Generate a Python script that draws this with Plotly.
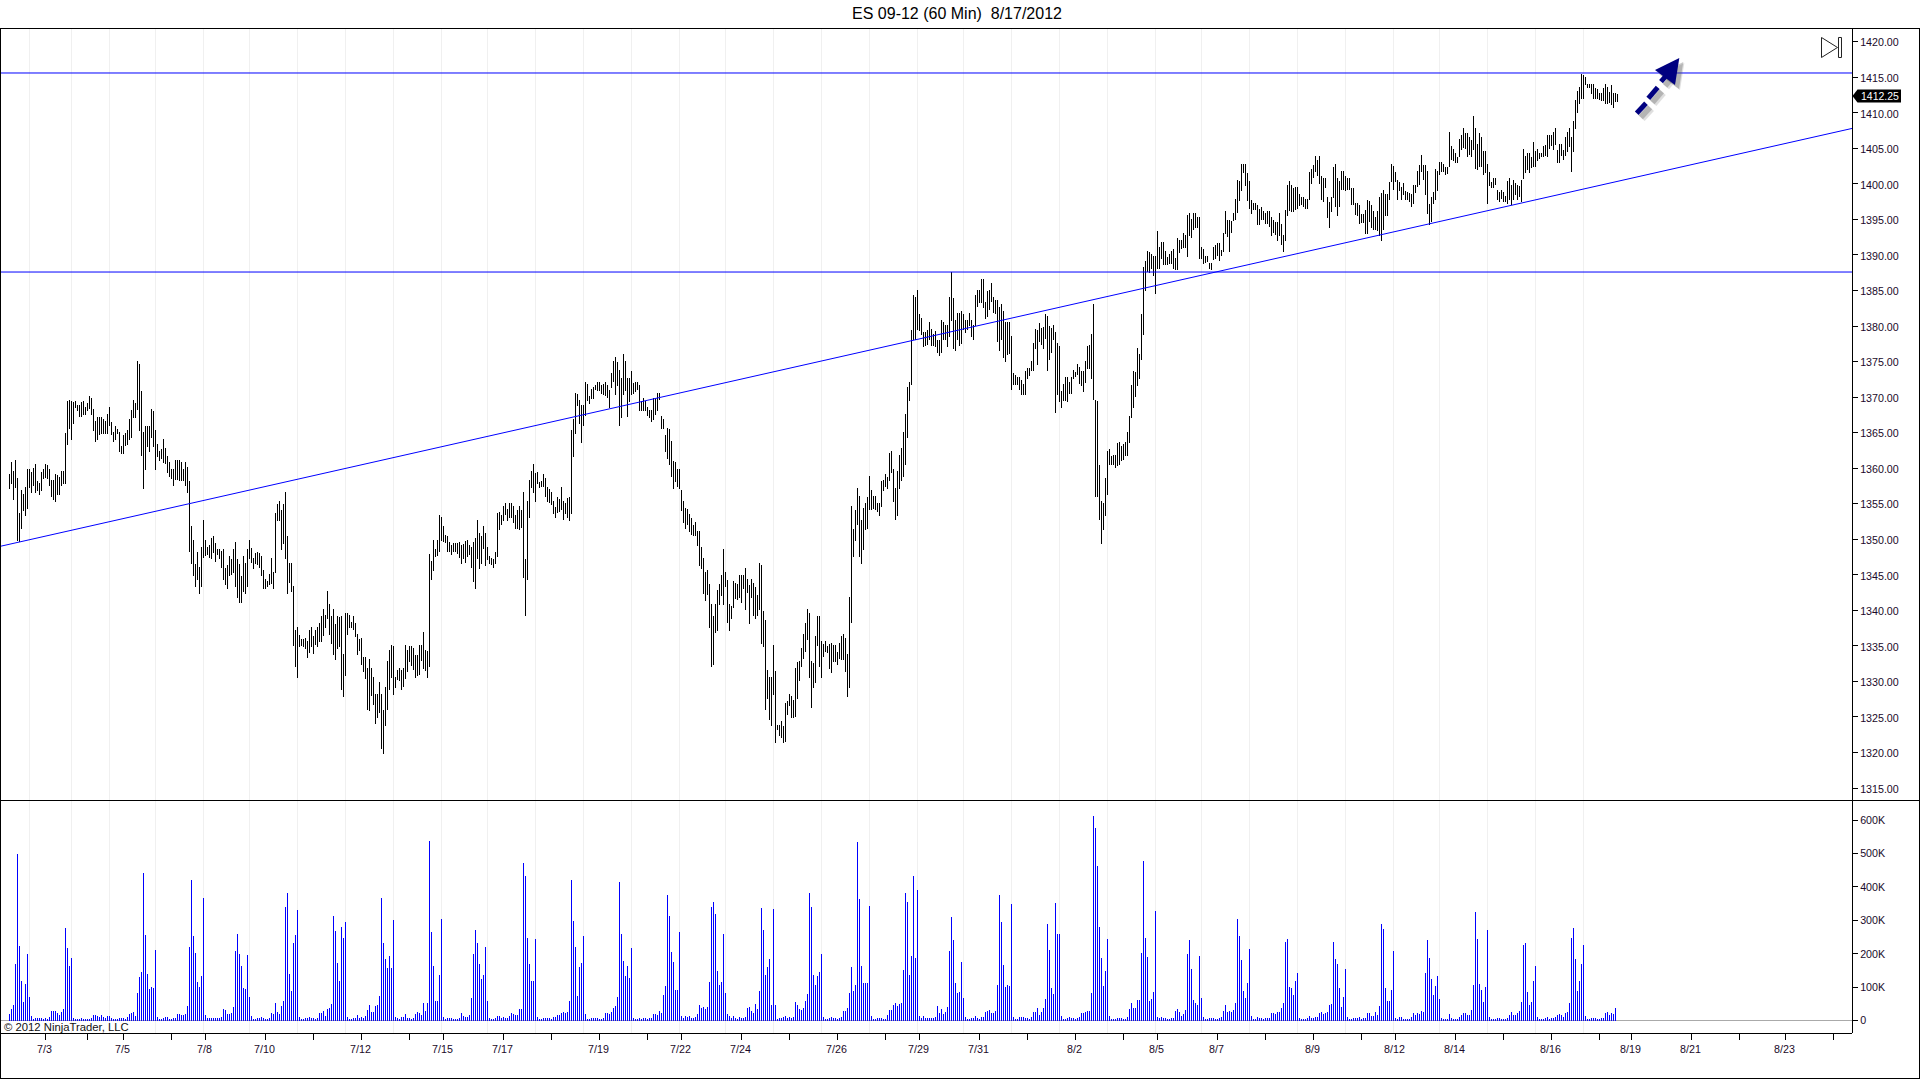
import plotly.graph_objects as go

W, H = 1920, 1079
title_text = "ES 09-12 (60 Min)  8/17/2012"
last_price = "1412.25"
copyright_text = "\u00a9 2012 NinjaTrader, LLC"

high_a = [
1359.2,1360.9,1359.6,1361.2,1358.6,1353.7,1356.9,1356.4,1357.3,1359.9,1359.9,1359.5,1360.0,1360.6,1358.2,1357.9,1359.5,1359.9,1360.6,1360.4,
1359.9,1358.3,1358.3,1359.2,1359.0,1358.8,1359.6,1359.6,1364.9,1369.4,1369.6,1369.4,1369.3,1369.4,1368.9,1368.9,1369.3,1369.4,1368.6,1369.2,
1370.2,1369.9,1368.3,1366.6,1367.2,1367.2,1367.2,1366.9,1366.6,1367.6,1368.6,1366.5,1365.1,1365.9,1365.5,1365.1,1363.1,1364.7,1364.9,1365.4,
1366.9,1368.2,1369.6,1369.2,1375.1,1374.7,1370.9,1365.1,1365.9,1365.9,1365.9,1368.3,1368.0,1365.4,1363.4,1362.4,1362.7,1364.1,1362.8,1361.7,
1360.9,1359.9,1359.9,1361.2,1361.2,1361.2,1360.9,1359.9,1360.9,1360.2,
1358.2,1351.9,1349.9,1346.5,1348.2,1346.1,1348.9,1352.7,1349.9,1348.9,1349.2,1350.2,1350.4,1349.5,1348.6,1348.6,1348.3,1348.6,1345.9,1346.4,
1347.6,1347.2,1348.6,1349.6,1347.2,1346.5,1344.9,1347.6,1346.6,1348.6,1349.9,1348.8,1347.4,1348.0,1348.2,1348.0,1347.6,1345.7,1344.4,1344.1,
1345.1,1347.4,1345.4,1353.7,1354.9,1355.4,1354.1,1354.9,1356.6,1350.4,1346.6,1346.6,1343.4,1337.2,1337.6,1336.6,1336.0,1336.0,1336.1,1335.7,
1337.2,1337.6,1336.4,1337.2,1337.6,1338.2,1339.2,1340.2,1339.3,1342.7,1340.9,1339.2,1340.2,1338.1,1339.2,1339.0,1339.2,1333.9,1339.6,1339.6,
1339.3,1338.3,1339.2,1338.2,1336.7,1336.0,1336.1,1333.4,1333.4,1331.9,1333.1,1331.9,1330.6,1328.2,1328.2,1329.9,1328.2,1326.0,1329.2,1332.9,
1334.4,1335.1,1335.0,1330.6,1331.6,1331.9,1331.6,1331.9,1335.1,1334.4,1335.0,1335.0,1334.7,1333.7,1333.7,1335.1,1335.1,1336.9,1334.4,1334.3,
1347.9,1346.9,1349.9,1348.6,1349.9,1353.4,1353.1,1351.9,1350.6,1350.4,1349.6,1349.2,1349.5,1349.5,1349.5,1349.6,1349.2,1349.3,1349.8,1349.9,
1349.2,1348.9,1349.6,1350.2,1352.7,1350.9]
low_a = [
1357.1,1357.8,1355.5,1357.2,1349.7,1349.6,1351.4,1354.0,1353.3,1354.2,1357.2,1356.5,1357.5,1356.5,1356.8,1356.2,1356.8,1358.5,1358.6,1358.5,
1357.5,1355.9,1355.5,1355.2,1356.2,1356.2,1357.5,1357.8,1357.8,1363.3,1365.5,1364.0,1366.2,1368.5,1368.0,1367.2,1367.2,1367.5,1367.5,1368.0,
1368.3,1367.5,1365.3,1363.7,1364.0,1364.7,1364.8,1364.8,1364.8,1364.8,1365.9,1364.7,1363.7,1364.0,1364.8,1362.3,1362.0,1362.0,1363.1,1363.3,
1364.0,1364.2,1367.1,1367.1,1368.2,1365.2,1361.7,1357.1,1359.7,1363.0,1362.3,1364.2,1363.0,1359.7,1361.6,1361.0,1361.3,1360.7,1360.6,1359.3,
1358.8,1358.5,1357.5,1358.3,1358.3,1358.2,1358.2,1358.2,1357.5,1356.5,
1348.2,1346.5,1344.8,1343.3,1344.3,1342.3,1343.3,1347.4,1347.6,1347.8,1347.4,1347.2,1348.1,1346.8,1347.8,1347.2,1345.9,1344.3,1343.6,1343.0,
1344.8,1345.0,1345.2,1343.3,1341.7,1341.0,1341.0,1342.6,1342.3,1343.3,1347.2,1346.6,1345.8,1346.5,1346.4,1345.9,1344.8,1343.0,1343.0,1343.3,
1343.6,1343.7,1343.0,1345.2,1352.6,1352.6,1348.5,1349.3,1347.2,1342.3,1343.8,1342.6,1335.0,1332.0,1330.5,1334.8,1335.0,1334.8,1334.5,1333.3,
1334.0,1334.8,1333.9,1335.1,1334.8,1335.5,1335.5,1336.4,1337.5,1338.8,1336.5,1335.3,1333.7,1333.0,1334.5,1334.8,1328.8,1327.8,1330.8,1336.5,
1337.5,1337.5,1337.2,1336.2,1333.7,1334.3,1332.3,1331.3,1330.3,1326.0,1325.8,1327.9,1326.7,1324.0,1324.8,1325.5,1320.5,1319.8,1323.7,1326.0,
1328.8,1330.5,1328.1,1329.1,1330.2,1330.0,1328.8,1329.2,1330.3,1331.3,1332.7,1332.2,1331.6,1330.5,1330.8,1330.9,1332.9,1331.7,1331.5,1330.5,
1332.0,1344.3,1345.5,1347.5,1347.6,1348.2,1349.7,1349.6,1349.5,1348.2,1348.2,1347.8,1348.2,1348.2,1347.9,1347.4,1346.5,1347.2,1346.6,1347.5,
1347.8,1345.9,1344.0,1343.0,1347.2,1345.8]

high_b = [
1350.5,1351.9,1350.9,1348.9,1347.6,1347.4,1347.2,1348.2,1353.7,1353.8,1353.4,1354.7,1355.1,1354.2,1355.1,1355.1,1354.7,1353.4,1354.1,1354.7,
1354.1,1356.6,1347.2,1355.4,1358.3,1359.6,1360.6,1359.3,1359.5,1358.1,1358.2,1359.2,1358.6,1357.3,1357.1,1356.6,1355.4,1354.5,1355.9,1355.7,
1357.3,1355.4,1355.1,1355.8,1355.9,1365.4,1366.9,1370.6,1370.4,1369.6,1368.9,1368.9,1372.1,1371.8,1370.2,1371.1,1371.4,1371.7,1372.1,1372.1,
1371.7,1371.8,1372.1,1371.7,1371.0,1373.4,1375.1,1375.6,1374.9,1373.8,1372.7,1376.1,1375.1,1372.7,1372.7,1373.7,1372.0,1372.1,1372.1,1371.7,
1369.4,1369.9,1369.4,1368.6,1368.2,1368.2,1369.9,1369.9,1370.6,1370.6,1367.3,1366.9,1364.7,1365.6,1365.5,1363.8,1361.0,1360.9,1359.9,1359.9,
1356.9,1355.4,1354.4,1354.2,1353.5,1353.0,1352.0,1352.4,1351.2,1351.2,1348.9,1347.4,1345.4,1345.7,1343.7,1340.9,1339.2,1340.9,1342.9,1343.7,
1345.0,1348.6,1345.4,1344.3,1340.9,1340.6,1344.1,1343.8,1343.7,1345.0,1345.0,1345.0,1346.0,1344.4,1343.6,1344.4,1343.8,1343.3,1342.1,1346.6,
1346.4,1339.9,1338.6,1331.6,1330.6,1330.6,1335.1,1331.5,1323.9,1323.9,1324.4,1323.7,1326.9,1327.2,1328.2,1327.9,1327.4,1331.9,1332.7,1332.9,
1334.7,1336.7,1338.2,1340.2,1339.6,1332.9,1332.6,1336.4,1339.2,1339.2,1335.7,1335.3,1335.7,1335.0,1335.3,1335.4,1335.1,1335.1,1334.1,1335.4,
1336.4,1336.7,1336.1,1333.8,1341.9,1354.7,1351.4,1354.1,1357.2,1356.1,1352.7,1354.4,1355.1,1355.9,1358.9,1356.9,1356.1,1356.1,1355.1,1355.1,
1358.2,1358.3,1359.2,1358.8,1362.1,1362.4,1359.9,1357.2,1359.6,1361.9,1362.8,1365.1,1367.6,1371.4,1372.1,1379.4]
low_b = [
1346.5,1348.7,1346.2,1347.1,1346.5,1346.4,1345.9,1346.5,1347.5,1351.3,1352.0,1352.6,1353.4,1352.6,1353.0,1353.0,1352.3,1351.4,1351.4,1351.3,
1351.6,1344.5,1339.2,1344.3,1353.0,1357.2,1356.5,1355.2,1357.8,1357.2,1357.3,1357.3,1355.9,1355.2,1355.1,1354.8,1353.5,1353.0,1353.7,1353.8,
1354.1,1352.7,1353.5,1353.0,1352.6,1353.5,1361.6,1364.8,1368.7,1366.2,1363.5,1365.9,1367.3,1369.4,1369.0,1369.7,1369.7,1371.0,1370.9,1370.9,
1370.4,1370.3,1370.2,1369.9,1368.5,1371.3,1372.1,1370.3,1371.6,1365.9,1367.1,1370.3,1370.9,1367.2,1369.3,1370.3,1370.4,1370.7,1371.0,1368.0,
1368.0,1368.0,1368.0,1367.3,1367.1,1366.5,1366.8,1367.5,1368.0,1369.6,1365.5,1365.5,1362.3,1361.3,1360.4,1358.8,1357.1,1358.1,1357.3,1357.1,
1354.0,1352.3,1351.4,1352.0,1351.0,1350.6,1350.4,1350.4,1349.0,1346.2,1345.8,1342.3,1341.3,1342.1,1337.5,1332.0,1332.3,1336.8,1337.1,1340.7,
1342.0,1340.7,1343.3,1338.2,1337.1,1338.8,1340.3,1341.6,1341.4,1341.7,1341.0,1343.0,1340.0,1342.4,1338.1,1341.7,1339.2,1338.8,1339.2,1340.0,
1335.3,1334.8,1326.0,1327.5,1324.6,1323.7,1328.1,1321.3,1323.2,1322.3,1322.0,1321.3,1321.5,1325.3,1326.5,1324.8,1324.8,1325.0,1327.5,1330.1,
1332.0,1333.1,1334.1,1335.8,1330.5,1326.2,1329.1,1329.8,1335.0,1332.0,1330.5,1333.4,1334.1,1334.0,1331.7,1331.2,1332.7,1332.7,1332.3,1333.1,
1333.0,1333.0,1331.3,1327.8,1329.1,1338.2,1347.5,1349.7,1352.0,1347.5,1346.5,1348.5,1351.3,1351.4,1354.1,1354.1,1354.2,1354.1,1353.8,1353.3,
1354.5,1356.8,1357.3,1357.1,1358.2,1359.3,1355.2,1352.7,1353.3,1357.1,1358.2,1358.8,1360.4,1364.2,1369.4,1371.7]

high_c = [1384.4,1384.1,1385.1,1381.7,1381.1,1379.2,1379.2,1379.4,1380.6,1379.6,1378.9,1379.3,1378.0,1378.0]
low_c = [1378.0,1378.0,1379.4,1379.3,1378.7,1377.0,1377.2,1377.3,1378.0,1377.2,1377.2,1377.0,1376.2,1375.8]

high_d = [
1380.8,1380.6,1380.1,1380.1,1384.1,1387.6,1383.9,1380.8,1381.8,1381.8,1382.1,1381.7,1380.8,1380.8,1381.8,1380.8,1380.1,1384.4,1385.1,1385.1,
1386.6,1386.6,1383.4,1384.9,1385.1,1386.0,1384.1,1383.7,1383.7,1382.7,1383.1,1382.1,1380.6,1380.6,1380.6,1378.6,1373.4,1373.1,1372.8,1372.8,
1372.4,1371.8,1373.7,1374.1,1374.1,1375.1,1377.6,1379.6,1379.4,1380.4,1379.7,1379.9,1381.7,1381.4,1380.0,1379.7,1380.1,1379.2,1377.6,1377.2,
1370.9,1371.8,1372.8,1372.8,1372.1,1372.8,1373.8,1373.5,1374.7,1374.2,1373.7,1373.7,1375.1,1377.2,1377.3,1378.9,1383.1,1369.6,1369.4,1360.4,
1355.4,1355.1,1358.6,1362.4,1362.7,1361.7,1361.8,1361.8,1363.5,1363.7,1363.1,1363.4,1363.7,1365.1,1367.3,1371.7,1373.7,1373.5,1376.9,1376.1,
1381.7,1388.3,1389.1,1390.6,1390.4,1390.1,1389.8,1389.8]
low_d = [
1376.2,1378.0,1378.0,1377.0,1378.5,1380.7,1376.8,1376.5,1378.0,1377.2,1377.5,1379.4,1379.0,1379.4,1380.0,1378.5,1378.0,1380.0,1382.7,1383.2,
1383.2,1382.5,1381.0,1381.3,1382.3,1383.4,1381.8,1381.7,1377.8,1376.5,1378.0,1375.5,1374.9,1375.9,1376.1,1371.0,1371.7,1371.7,1371.7,1371.0,
1370.3,1370.3,1370.3,1372.5,1373.0,1373.7,1373.7,1376.8,1374.5,1377.8,1377.3,1376.8,1378.2,1373.7,1375.2,1376.2,1378.0,1367.8,1370.3,1369.3,
1368.5,1369.4,1369.4,1369.3,1370.4,1370.4,1372.5,1372.8,1373.1,1371.8,1371.6,1370.7,1372.0,1374.0,1374.0,1372.5,1369.6,1355.9,1355.9,1352.7,
1349.3,1351.3,1353.3,1356.2,1360.4,1360.4,1360.4,1360.0,1360.3,1360.4,1361.0,1361.1,1361.7,1361.7,1363.5,1367.1,1368.5,1370.0,1371.6,1372.5,
1375.2,1378.7,1384.9,1387.6,1387.5,1388.0,1387.0,1384.5]

high_e = [
1393.4,1391.1,1391.8,1391.8,1390.5,1389.7,1390.1,1390.5,1390.8,1389.6,1392.4,1392.1,1392.1,1393.1,1392.8,1395.6,1395.9,1395.0,1395.9,1395.9,
1395.3,1395.3,1391.1,1390.8,1389.9,1389.9,1388.9,1388.9,1391.1,1391.4,1391.7,1391.7,1390.7,1393.1,1396.2,1394.9,1394.9,1394.8,1395.9,1397.9,
1400.5,1400.4,1402.8,1402.8,1402.8,1401.5,1400.4,1397.7,1397.3,1397.3,1397.0,1396.5,1396.7,1396.2,1395.9,1396.2,1396.2,1395.3,1394.9,1394.6,
1394.6,1395.9,1394.4,1392.8,1396.3,1399.8,1400.4,1399.8,1399.4,1399.5,1399.5,1398.6,1398.1,1398.1,1397.9,1397.9,1401.7,1402.1,1402.7,1403.9,
1403.4,1403.9,1401.1,1400.8,1400.8,1398.1,1397.4,1398.1,1402.4,1402.8,1400.8,1400.4,1401.8,1401.8,1401.1,1400.8,1400.8,1399.4,1399.4,1397.3,
1397.3,1397.0,1395.8,1395.8,1396.3,1397.7,1397.6,1397.0,1396.2,1395.3,1396.2,1398.1,1398.7,1399.1,1398.6,1398.6,1400.3,1402.8,1402.5,1401.7,
1400.5,1400.3]
low_e = [
1388.0,1388.0,1389.4,1388.6,1388.6,1388.6,1388.7,1388.7,1388.0,1387.9,1387.9,1390.3,1390.8,1391.0,1391.0,1389.7,1392.7,1392.4,1393.5,1393.8,
1393.8,1389.4,1389.4,1388.7,1388.9,1389.0,1388.0,1387.9,1389.3,1389.4,1389.9,1389.1,1389.9,1390.4,1392.9,1392.5,1390.4,1393.1,1394.8,1394.9,
1395.9,1397.6,1399.0,1401.5,1399.7,1397.6,1396.5,1395.8,1396.3,1396.3,1394.2,1394.2,1394.9,1394.9,1394.4,1394.4,1393.9,1392.7,1393.1,1392.8,
1392.0,1392.7,1391.4,1390.4,1392.0,1395.5,1396.2,1396.0,1396.0,1396.3,1396.5,1396.9,1397.0,1396.7,1396.5,1396.5,1397.7,1400.0,1400.8,1401.7,
1401.1,1400.0,1397.7,1397.4,1399.4,1395.2,1393.8,1396.0,1398.0,1396.7,1395.5,1396.7,1399.1,1399.1,1399.0,1399.1,1399.1,1397.0,1397.0,1395.6,
1395.5,1394.4,1394.5,1394.5,1393.0,1393.0,1394.6,1393.8,1393.5,1393.5,1393.4,1392.7,1392.0,1393.5,1395.5,1395.5,1397.7,1400.3,1399.1,1400.3,
1397.7,1399.0]

high_f = [
1399.6,1400.1,1399.0,1398.9,1398.7,1398.6,1399.8,1399.8,1401.8,1402.7,1404.1,1402.7,1402.7,1401.8,1397.2,1398.2,1398.9,1402.1,1401.8,1403.1,
1403.1,1402.8,1402.4,1402.4,1407.3,1405.3,1404.9,1404.3,1403.8,1406.3,1406.9,1407.9,1407.2,1407.2,1406.6,1406.2,1409.6,1407.9,1405.6,1407.2,
1406.6,1404.6,1404.6,1402.8,1401.7,1400.3,1400.8,1400.8,1399.2,1398.9,1399.2,1398.9,1398.3,1400.4,1400.8,1399.8,1400.5,1400.1,1399.8,1399.7,
1400.5,1404.9,1403.9,1404.3,1404.3,1403.8,1405.9,1404.6,1404.9,1404.3,1404.3,1405.3,1405.5,1406.9,1406.9,1406.9,1407.3,1407.9,1404.8,1405.6,
1405.6,1404.8,1406.6,1407.3,1407.9,1406.6,1408.9,1411.8,1413.1,1413.6,1415.5,1415.3,1415.0,1414.1,1414.1,1414.1,1414.1,1413.5,1413.4,1412.8,
1412.8,1413.5,1414.1,1413.6,1412.9,1413.9,1412.8,1412.8,1412.6]
low_f = [
1397.7,1398.4,1397.7,1397.7,1397.5,1396.7,1397.2,1398.7,1399.6,1399.8,1401.7,1400.5,1398.4,1395.8,1394.2,1394.6,1397.2,1397.7,1399.0,1401.2,
1401.7,1401.7,1401.2,1401.4,1402.4,1403.4,1403.2,1402.9,1402.9,1403.8,1404.8,1405.1,1404.9,1403.8,1404.1,1403.8,1404.8,1402.1,1402.0,1402.4,
1402.4,1401.2,1401.5,1397.2,1399.7,1399.4,1399.4,1399.8,1397.7,1397.5,1397.9,1397.5,1397.5,1397.2,1397.7,1397.0,1397.7,1398.4,1397.7,1398.2,
1397.5,1400.7,1401.5,1402.0,1401.5,1402.2,1402.4,1402.4,1403.2,1403.5,1403.8,1403.8,1403.9,1403.8,1404.9,1405.3,1404.8,1405.5,1402.9,1402.9,
1403.9,1403.4,1403.9,1404.5,1405.2,1401.7,1404.5,1407.7,1410.0,1411.2,1411.9,1411.9,1413.9,1413.5,1413.5,1412.7,1411.9,1411.9,1411.9,1411.8,
1411.7,1411.7,1411.2,1411.2,1411.4,1411.1,1410.7,1411.5,1411.5]

# Volume in thousands of contracts
volume_k = [
20,35,47,170,497,224,119,56,110,200,71,14,5,8,8,8,8,5,8,5,11,29,29,29,23,17,26,35,278,218,164,188,8,5,5,5,8,5,5,5,
5,8,17,17,14,11,17,11,8,14,14,8,5,5,5,8,8,8,5,11,20,23,26,14,83,131,146,443,257,140,95,101,98,212,11,5,5,8,11,11,
5,5,8,8,20,20,17,17,20,44,221,422,254,203,116,101,134,368,17,8,8,8,8,8,8,8,11,35,32,20,20,23,41,209,260,200,164,98,95,197,
71,14,5,5,8,8,11,8,5,5,8,23,20,53,26,20,44,59,341,383,140,89,233,257,332,11,5,5,8,8,11,8,8,5,8,23,23,29,14,35,
38,50,314,269,173,119,281,248,296,11,5,5,8,8,17,8,11,8,14,32,47,26,26,44,47,74,368,233,185,158,194,158,302,11,8,5,11,11,20,8,
8,5,8,20,26,23,17,53,29,53,536,266,164,59,59,137,305,11,5,8,8,8,5,5,5,8,23,14,11,11,17,
68,200,272,233,170,125,137,221,59,8,5,5,8,14,14,8,11,8,8,14,23,20,17,17,35,35,470,434,248,170,119,119,245,11,5,5,8,8,8,8,
5,11,11,17,17,23,26,23,26,59,422,299,221,74,161,173,254,20,5,5,8,8,8,8,5,5,8,23,23,20,26,38,44,71,416,260,179,134,164,128,
218,8,5,5,8,5,8,8,5,8,8,20,20,17,29,23,77,104,377,314,206,176,92,92,266,14,8,14,11,14,8,8,11,20,47,38,41,35,41,116,
341,356,320,149,107,116,260,83,20,14,8,14,8,5,11,8,8,11,38,41,29,23,50,35,89,338,272,137,161,185,47,335,47,5,8,8,11,14,8,11,
8,11,56,47,35,32,38,59,80,383,341,137,107,134,146,200,11,5,5,8,11,8,8,5,8,11,29,29,38,83,161,89,107,533,365,164,113,113,113,344,
14,5,5,8,8,8,5,5,17,32,32,47,53,44,50,53,152,383,356,137,194,434,188,392,14,8,14,8,8,8,8,8,11,44,23,35,20,26,41,
209,311,242,113,83,86,176,68,11,5,5,8,8,14,8,5,11,11,26,29,32,23,23,29,107,377,296,167,101,107,104,350,11,5,5,11,11,11,8,8,
5,11,26,26,38,17,26,38,65,290,212,98,80,353,260,260,14,5,5,8,11,8,8,5,8,11,23,23,26,29,29,83,611,575,461,281,188,104,149,245,
14,5,5,5,8,8,8,5,5,11,35,53,38,38,62,62,203,476,248,191,59,65,86,329,11,8,11,8,8,5,5,8,8,29,35,26,14,20,32,200,
242,155,62,53,47,194,68,11,5,5,8,8,8,5,5,8,11,29,47,26,29,26,32,53,305,254,182,89,68,113,215,14,5,5,11,8,8,5,8,8,
8,23,23,20,26,26,38,53,236,245,101,98,77,119,143,8,5,5,5,8,14,8,8,11,11,23,26,20,23,26,47,50,236,185,170,98,41,71,155,11,
5,5,8,8,8,11,5,8,8,23,23,14,14,26,17,44,290,275,98,59,59,92,209,8,5,11,
11,5,5,5,5,11,23,17,23,20,29,26,143,242,188,125,77,104,134,65,8,5,5,5,20,8,5,5,5,11,17,23,23,17,17,32,107,326,245,110,
92,56,101,272,11,5,5,5,8,8,5,5,5,8,17,26,17,17,23,29,56,227,233,86,47,56,119,164,11,5,5,5,8,11,5,8,8,11,17,20,17,11,
23,26,53,248,278,185,89,119,170,227,14,5,5,8,8,8,5,5,8,8,23,26,17,23,20,38]

# Session boundaries (vertical grid) and date ticks, as bar numbers
session_bars = [10,31,50,73,97,120,144,168,192,216,239,263,287,311,335,358,382,406,430,454,477,501,525,549,573,596,620,644,668,692,715,739,763,787]
date_ticks = [18,39,57,81,98,128,152,176,200,217,247,271,295,319,336,366,390,414,438,455,485,509,533,557,574,604,628,652,676,693,723,747,771,795,811,841,865,888,912]
date_labels = ["7/3","","7/5","","7/8","7/10","","7/12","","7/15","7/17","","7/19","","7/22","7/24","","7/26","","7/29","7/31","","8/2","","8/5","8/7","","8/9","","8/12","8/14","","8/16","","8/19","8/21","","8/23",""]

price_ticks = list(range(1315, 1425, 5))
price_labels = [f"{p}.00" for p in price_ticks]
vol_ticks = [0,100,200,300,400,500,600]
vol_labels = ["0","100K","200K","300K","400K","500K","600K"]

resistance = [1415.6, 1387.6]
trend_x = [-4.75, 921.25]
trend_y = [1349.0, 1407.8]

high = high_a + high_b + high_c + high_d + high_e + high_f
low = low_a + low_b + low_c + low_d + low_e + low_f
for n, (a, b) in enumerate([(high_a, low_a), (high_b, low_b), (high_c, low_c), (high_d, low_d), (high_e, low_e), (high_f, low_f)]):
    assert len(a) == len(b), (n, len(a), len(b))

bars = list(range(len(high)))
bar_span = [round(h - l, 2) for h, l in zip(high, low)]
XR = [-4.75, 921.25]
LINE = "#0000ff"

def px(x): return x / W
def py(y): return 1 - y / H

fig = go.Figure()
fig.add_trace(go.Bar(x=bars, y=bar_span, base=low, width=0.5, marker=dict(color="#000000", line=dict(width=0)), xaxis="x", yaxis="y", hoverinfo="skip"))
for lvl in resistance:
    fig.add_trace(go.Scatter(x=XR, y=[lvl, lvl], mode="lines", line=dict(color=LINE, width=1), xaxis="x", yaxis="y", hoverinfo="skip"))
fig.add_trace(go.Scatter(x=trend_x, y=trend_y, mode="lines", line=dict(color=LINE, width=1), xaxis="x", yaxis="y", hoverinfo="skip"))
fig.add_trace(go.Bar(x=list(range(len(volume_k))), y=volume_k, width=0.5, marker=dict(color=LINE, line=dict(width=0)), xaxis="x2", yaxis="y2", hoverinfo="skip"))

minor = dict(tickmode="array", tickvals=session_bars, showgrid=True, gridcolor="#f0f0f0", gridwidth=1, ticks="")
tick_font = dict(family="Liberation Sans, Arial, sans-serif", size=10.7, color="#1a0a2a")
X_DOM = [0, 1852 / W]

# Shapes given on the page: frame, icon, price tag and hand-drawn arrow
def seg(x0, y0, x1, y1, color="#000000", width=1, opacity=1):
    return dict(type="line", xref="paper", yref="paper", x0=px(x0), y0=py(y0), x1=px(x1), y1=py(y1), line=dict(color=color, width=width), opacity=opacity, layer="above")
def poly(pts, fill=None, stroke=None, width=1, opacity=1):
    path = "M " + " L ".join(f"{px(a):.5f},{py(b):.5f}" for a, b in pts) + " Z"
    return dict(type="path", xref="paper", yref="paper", path=path, fillcolor=fill or "rgba(0,0,0,0)", line=dict(color=stroke or "rgba(0,0,0,0)", width=width), opacity=opacity, layer="above")

frame = [seg(0.5, 28.5, 0.5, 1078.5), seg(0, 28.5, 1920, 28.5), seg(0, 800.5, 1920, 800.5), seg(0, 1033.5, 1852, 1033.5), seg(0, 1078.5, 1920, 1078.5), seg(1919.5, 28.5, 1919.5, 1078.5)]
icon = [poly([(1821.5, 37.5), (1837.5, 47.5), (1821.5, 57.5)], stroke="#222222"), poly([(1838.5, 37.5), (1841.5, 37.5), (1841.5, 57.5), (1838.5, 57.5)], stroke="#222222")]
tag = [poly([(1852.5, 96), (1857.5, 89.5), (1901, 89.5), (1901, 102.5), (1857.5, 102.5)], fill="#000000")]
dashes = [(1636.7, 113.3, 1646, 103.3), (1648.3, 98.3, 1657.7, 87.3), (1661, 81.7, 1668, 73.5)]
head = [(1679.3, 58), (1655, 70), (1675, 85)]
arrow = []
for off, op, extra in [(5, 0.18, 3), (4, 0.3, 1)]:
    for d in dashes:
        arrow.append(seg(d[0] + off, d[1] + off, d[2] + off, d[3] + off, "#555555", 5 + extra, op))
    arrow.append(poly([(a + off, b + off) for a, b in head], fill="#555555", opacity=op))
for d in dashes:
    arrow.append(seg(*d, "#000080", 5))
arrow.append(poly(head, fill="#000080"))

fig.update_layout(
    width=W, height=H, margin=dict(l=0, r=0, t=0, b=0, pad=0),
    paper_bgcolor="#ffffff", plot_bgcolor="#ffffff", showlegend=False, barmode="overlay", bargap=0,
    title=dict(text=title_text, x=957 / W, y=py(13), xanchor="center", yanchor="middle", xref="paper", yref="paper",
               font=dict(family="Liberation Sans, Arial, sans-serif", size=16, color="#000000")),
    xaxis=dict(domain=X_DOM, range=XR, anchor="y", showticklabels=False, ticks="", showgrid=False, zeroline=False, minor=minor,
               tickmode="array", tickvals=date_ticks, ticktext=date_labels),
    yaxis=dict(domain=[py(800), py(28)], range=[1313.32, 1421.93], side="right", anchor="x", tickmode="array", tickvals=price_ticks, ticktext=price_labels,
               ticks="outside", ticklen=5, tickcolor="#000000", tickwidth=1, showgrid=False, zeroline=False, showline=True, linecolor="#000000", linewidth=1, tickfont=tick_font, ticklabelshift=1),
    xaxis2=dict(domain=X_DOM, range=XR, anchor="y2", tickmode="array", tickvals=date_ticks, ticktext=date_labels, ticks="outside", ticklen=6, tickcolor="#000000", tickwidth=1,
                showgrid=False, zeroline=False, minor=minor, tickfont=tick_font, tickangle=0, ticklabelshift=-1),
    yaxis2=dict(domain=[py(1033), py(800)], range=[-36.8, 659.8], side="right", anchor="x2", tickmode="array", tickvals=vol_ticks, ticktext=vol_labels,
                ticks="outside", ticklen=5, tickcolor="#000000", tickwidth=1, showgrid=False, zeroline=True, zerolinecolor="#aaaaaa", zerolinewidth=1,
                showline=True, linecolor="#000000", linewidth=1, tickfont=tick_font),
    shapes=frame + icon + tag + arrow,
    annotations=[
        dict(text=last_price, xref="paper", yref="paper", x=px(1858.5), y=py(96), xanchor="left", yanchor="middle", showarrow=False,
             font=dict(family="Liberation Sans, Arial, sans-serif", size=10.5, color="#ffffff")),
        dict(text=copyright_text, xref="paper", yref="paper", x=px(2), y=py(1027), xanchor="left", yanchor="middle", showarrow=False,
             font=dict(family="Liberation Sans, Arial, sans-serif", size=11.3, color="#111111")),
    ],
)
fig.write_html("out.html", config={"displayModeBar": False},
               post_script="document.body.style.margin='0';document.body.style.overflow='hidden';window.dispatchEvent(new Event('resize'));")
